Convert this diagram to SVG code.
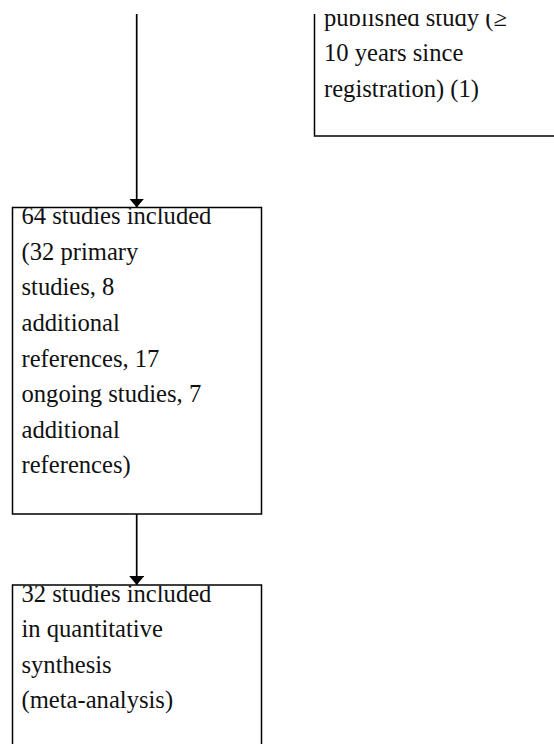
<svg xmlns="http://www.w3.org/2000/svg" width="554" height="744" viewBox="0 0 554 744">
<defs>
<marker id="ah" markerWidth="9" markerHeight="15" refX="9" refY="7.5" orient="auto" markerUnits="userSpaceOnUse">
<path d="M0,0 L9,7.5 L0,15 Z" fill="#000"/>
</marker>
<clipPath id="clipTop"><rect x="0" y="14" width="554" height="730"/></clipPath>
<clipPath id="clipB1"><rect x="12.5" y="208.3" width="249" height="305"/></clipPath>
<clipPath id="clipB2"><rect x="12.5" y="585.8" width="249" height="180"/></clipPath>
<clipPath id="clipB0"><rect x="314.5" y="14" width="260" height="122"/></clipPath>
<style>
.box{fill:#fff;stroke:#000;stroke-width:1.5}
.t{font-family:"Liberation Serif","Times New Roman",serif;font-size:24.6px;fill:#111}
.c{stroke:#000;stroke-width:1.7;fill:none}
</style>
</defs>
<rect width="554" height="744" fill="#fff"/>
<g clip-path="url(#clipTop)">
<g id="node-excluded">
<rect class="box" x="314.5" y="-20" width="260" height="156"/>
<g clip-path="url(#clipB0)">
<text class="t" x="324" y="25.8">published study (≥</text>
<text class="t" x="324" y="61.4">10 years since</text>
<text class="t" x="324" y="97">registration) (1)</text>
</g>
</g>
<g id="node-included">
<rect class="box" x="12.5" y="207.5" width="249" height="306.5"/>
<g clip-path="url(#clipB1)">
<text class="t" x="21.5" y="224.3">64 studies included</text>
<text class="t" x="21.5" y="259.9">(32 primary</text>
<text class="t" x="21.5" y="295.4">studies, 8</text>
<text class="t" x="21.5" y="331">additional</text>
<text class="t" x="21.5" y="366.6">references, 17</text>
<text class="t" x="21.5" y="402.2">ongoing studies, 7</text>
<text class="t" x="21.5" y="437.7">additional</text>
<text class="t" x="21.5" y="473.3">references)</text>
</g>
</g>
<g id="node-quantitative">
<rect class="box" x="12.5" y="585" width="249" height="180"/>
<g clip-path="url(#clipB2)">
<text class="t" x="21.5" y="601.6">32 studies included</text>
<text class="t" x="21.5" y="637.2">in quantitative</text>
<text class="t" x="21.5" y="672.8">synthesis</text>
<text class="t" x="21.5" y="708.4">(meta-analysis)</text>
</g>
</g>
<g id="connectors">
<line class="c" x1="136.7" y1="0" x2="136.7" y2="207.5" marker-end="url(#ah)"/>
<line class="c" x1="136.7" y1="514" x2="136.7" y2="585" marker-end="url(#ah)"/>
</g>
</g>
</svg>
